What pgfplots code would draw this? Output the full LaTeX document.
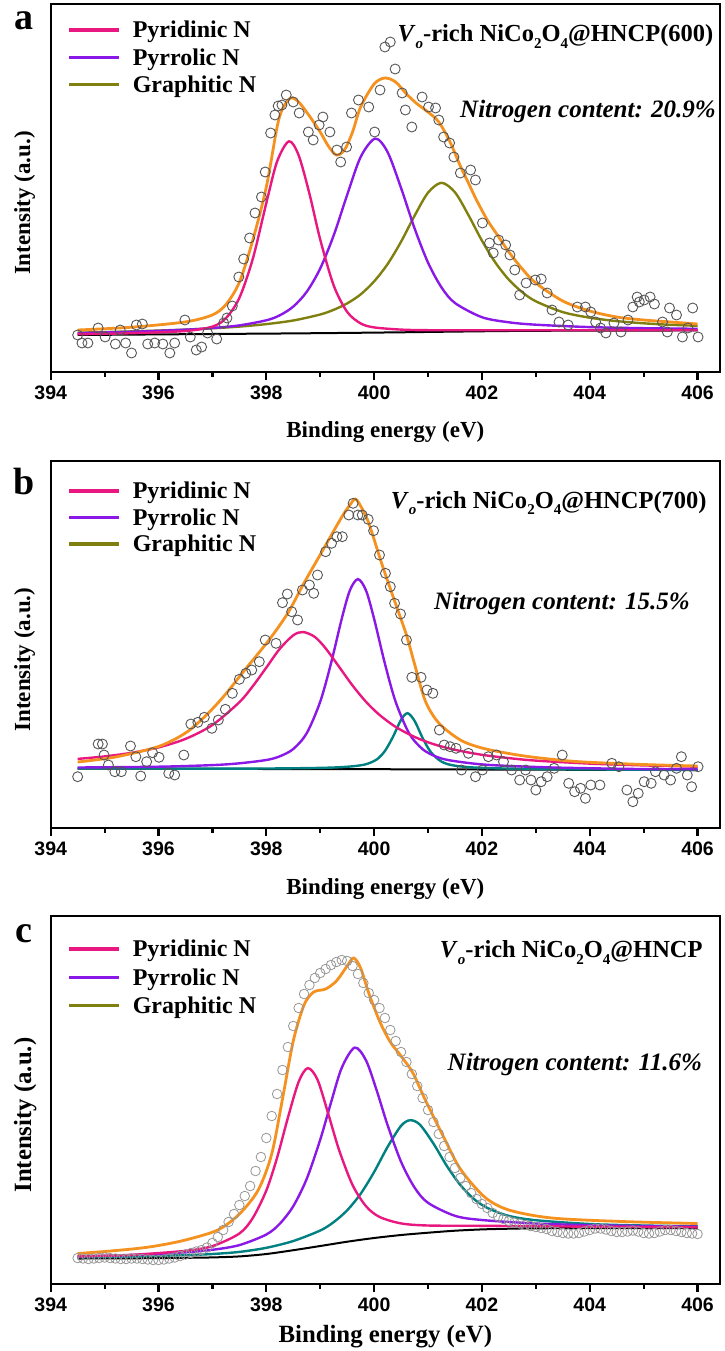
\documentclass[border=0pt]{standalone}
\usepackage{fontspec}
\setmainfont{Liberation Serif}
\newfontfamily\tickfont{Liberation Sans}
\usepackage{pgfplots}
\pgfplotsset{compat=1.18}

\definecolor{pyridinic}{RGB}{232,24,128}
\definecolor{pyrrolic}{RGB}{138,24,230}
\definecolor{graphitic}{RGB}{128,128,16}
\definecolor{graphfit}{RGB}{0,128,128}
\definecolor{envelope}{RGB}{245,145,30}
\definecolor{rawdata}{RGB}{85,85,85}
\definecolor{rawdatalight}{RGB}{150,150,150}

\newcommand{\sub}[1]{\raisebox{-0.28em}{\fontsize{15}{15}\selectfont #1}}

\pgfplotsset{
  xps/.style={
    scale only axis, width=669.3pt,
    xmin=394, xmax=406.417, ymin=0,
    xtick={394,396,...,406}, minor x tick num=1, ytick=\empty,
    xtick pos=left, tick align=outside,
    major tick length=8pt, minor tick length=4.6pt,
    tick style={black, line width=2.2pt},
    axis line style={line width=2.4pt},
    /pgf/number format/assume math mode=true,
    xticklabel style={font=\tickfont\bfseries\fontsize{19.5}{22}\selectfont, yshift=-2pt},
    xlabel={Binding energy (eV)},
    ylabel={Intensity (a.u.)},
    label style={font=\bfseries\fontsize{23}{27}\selectfont},
    ylabel style={at={(axis description cs:-0.0309,0.459)}, anchor=base},
    legend cell align=left,
    legend image code/.code={\draw[##1, line width=3.6pt] (0pt,0pt) -- (50pt,0pt);},
    legend style={draw=none, fill=none, inner sep=0pt, column sep=10pt,
      at={(axis description cs:0,1)}, anchor=north west, xshift=16.3pt,
      font=\bfseries\fontsize{24}{28}\selectfont},
  },
  raw/.style={only marks, mark=o, mark size=5pt, mark options={rawdata, line width=0.9pt}, forget plot},
  comp/.style={smooth, tension=0.5, line width=2.4pt, forget plot},
  base/.style={smooth, tension=0.5, line width=2pt, black, forget plot},
  env/.style={smooth, tension=0.5, line width=2.8pt, envelope, forget plot},
}

\begin{document}
\begin{tikzpicture}[x=1pt,y=1pt]
\useasboundingbox (0,0) rectangle (724,-1351);

% ---------------- (a) 600 C ----------------
\begin{axis}[xps, at={(50.7pt,-372pt)}, anchor=south west, height=368pt, ymax=368,
  xlabel style={at={(axis description cs:0.5,-0.1774)}, anchor=base},
  legend style={yshift=-15pt, row sep=5pt}]
\addplot[raw] coordinates {
(394.50,37) (394.58,29) (394.69,29) (394.88,44) (395.01,35) (395.20,28) (395.29,42)
(395.39,29) (395.50,19) (395.59,47) (395.70,48) (395.80,28) (395.93,29) (396.08,28)
(396.21,19) (396.30,29) (396.49,52) (396.59,35) (396.70,22) (396.80,25) (396.91,39)
(397.08,33) (397.21,49) (397.27,54) (397.37,66) (397.49,95) (397.58,113) (397.69,134)
(397.79,159) (397.91,175) (397.98,200) (398.08,239) (398.16,257) (398.22,266) (398.29,267)
(398.37,277) (398.50,270) (398.61,259) (398.78,240) (398.87,232) (398.98,247) (399.05,255)
(399.18,240) (399.31,222) (399.38,210) (399.49,225) (399.58,259) (399.71,272) (399.90,265)
(400.01,240) (400.11,282) (400.20,325) (400.30,330) (400.39,303) (400.52,279) (400.58,262)
(400.70,245) (400.89,275) (401.01,265) (401.14,264) (401.20,252) (401.29,235) (401.40,229)
(401.48,215) (401.60,199) (401.79,202) (401.88,192) (402.01,149) (402.14,129) (402.21,119)
(402.31,132) (402.44,127) (402.52,117) (402.61,102) (402.70,77) (402.82,89) (402.99,92)
(403.10,93) (403.21,79) (403.30,62) (403.43,50) (403.60,47) (403.77,65) (403.92,65)
(404.02,60) (404.11,50) (404.20,44) (404.30,39) (404.45,49) (404.58,40) (404.71,52)
(404.80,65) (404.88,75) (404.92,70) (405.01,72) (405.12,75) (405.20,68) (405.35,50)
(405.44,40) (405.48,64) (405.61,57) (405.72,35) (405.82,44) (405.91,64) (406.01,35)};
\addplot[base] coordinates {
(394.5,37) (395.5,37.4) (396.5,37.8) (397.5,38.2) (398.5,38.6) (399.5,39.1) (400.5,39.7)
(401.5,40.4) (402.5,41) (403.5,41.3) (404.5,41.4) (405.5,41.5) (406,41.6)};
\addplot[comp, graphitic] coordinates {
(394.5,39.3) (395.5,40.6) (396.5,42.4) (397,43.7) (397.5,45.4) (398,47.9) (398.5,51.5)
(399,57.5) (399.25,62.2) (399.5,68.6) (399.75,77.6) (400,90.6) (400.25,107.9) (400.5,130.3)
(400.75,156.2) (401,179.3) (401.25,189.2) (401.5,179.7) (401.75,156.9) (402,131.4)
(402.25,109.4) (402.5,92.3) (402.75,79.7) (403,70.7) (403.5,59.9) (404,54.3) (404.5,50.9)
(405,48.7) (405.5,47.2) (406,46.2)};
\addplot[comp, pyrrolic] coordinates {
(394.5,38.9) (395.5,40.2) (396.5,42.3) (397,44.0) (397.5,46.6) (398,51.7) (398.25,56.7)
(398.5,65.4) (398.75,80.2) (399,103.5) (399.25,136.6) (399.5,177.1) (399.75,215.0)
(400.02,233.4) (400.25,219.9) (400.5,184.0) (400.75,143.7) (401,109.4) (401.25,84.6)
(401.5,69.0) (402,54.8) (402.5,49.7) (403,47.3) (404,44.9) (405,43.8) (406,43.2)};
\addplot[comp, pyridinic] coordinates {
(394.5,37.8) (395.5,38.8) (396.5,41.0) (397,45.4) (397.25,53.8) (397.5,74.1) (397.75,113.3)
(398,168.9) (398.2,210.5) (398.42,230.7) (398.6,216.7) (398.8,178.3) (399,132.5)
(399.25,86.6) (399.5,60.1) (399.75,48.6) (400,44.6) (400.5,42.4) (401,41.8) (402,41.8)
(404,41.8) (406,41.8)};
\addplot[env] coordinates {
(394.5,42) (395.5,44.8) (396.5,50.1) (397,57.1) (397.25,67.4) (397.5,89.7) (397.75,132)
(398,185) (398.2,245) (398.3,263) (398.45,274) (398.6,270) (398.8,256) (399,240)
(399.15,226) (399.3,217) (399.45,222) (399.6,240) (399.75,265) (400,288) (400.2,294)
(400.4,290) (400.6,278) (400.8,268) (401,260) (401.2,250) (401.4,231) (401.6,206)
(401.75,189) (401.9,172) (402.1,152) (402.3,136) (402.5,120) (402.75,103) (403,89)
(403.5,71) (404,61) (404.5,55) (405,52) (405.5,50) (406,48)};
\addlegendimage{pyridinic}\addlegendentry{Pyridinic N}
\addlegendimage{pyrrolic}\addlegendentry{Pyrrolic N}
\addlegendimage{graphitic}\addlegendentry{Graphitic N}
\end{axis}

% ---------------- (b) 700 C ----------------
\begin{axis}[xps, at={(50.7pt,-828pt)}, anchor=south west, height=367pt, ymax=367,
  xlabel style={at={(axis description cs:0.5,-0.1807)}, anchor=base},
  legend style={yshift=-18.7pt, row sep=4.5pt}]
\addplot[raw] coordinates {
(394.50,51.3) (394.88,84) (394.96,84) (394.99,73) (395.07,63) (395.19,56.3) (395.31,56.3)
(395.48,82) (395.58,71.3) (395.67,52) (395.78,66.3) (395.89,75.3) (396.01,70.7) (396.19,54.7)
(396.30,53) (396.47,73) (396.60,104) (396.73,105.7) (396.85,110.7) (396.99,99.7) (397.11,108)
(397.24,118.7) (397.37,134.7) (397.50,148.7) (397.62,154.7) (397.73,158) (397.87,166.3)
(397.98,188) (398.18,184.7) (398.30,225.3) (398.39,234) (398.47,216.3) (398.58,208)
(398.67,238) (398.80,243) (398.88,234.7) (398.95,253) (399.10,276.3) (399.21,284.7)
(399.31,291.3) (399.41,291.3) (399.53,313) (399.61,324.7) (399.70,313) (399.78,313)
(399.89,308.7) (399.99,297.3) (400.10,273) (400.21,254.7) (400.30,241.3) (400.38,224.7)
(400.49,214) (400.60,188) (400.70,150.7) (400.87,150.7) (400.98,138) (401.09,134.7)
(401.21,98) (401.30,83) (401.41,81.3) (401.52,79.7) (401.62,58) (401.75,74.7) (401.88,51.3)
(402.01,58) (402.12,71.3) (402.27,73) (402.40,66.3) (402.55,58) (402.70,48) (402.81,58)
(402.91,48) (403.00,38) (403.10,46.3) (403.21,51.3) (403.34,59.7) (403.49,73) (403.61,44.7)
(403.72,36.3) (403.83,39.7) (403.92,29.7) (404.02,43) (404.19,43) (404.41,64.7) (404.54,61.3)
(404.69,38) (404.80,26.3) (404.90,34.7) (405.01,46.3) (405.14,44.7) (405.22,56.3) (405.38,53)
(405.50,48) (405.61,59.7) (405.70,71.3) (405.81,53) (405.89,41.3) (406.01,61.3)};
\addplot[base] coordinates {
(394.5,59.5) (396,59.3) (398,59) (400,58.8) (402,58.5) (404,58.2) (406,58)};
\addplot[comp, graphfit] coordinates {
(394.5,59.6) (397,59.4) (398,59.5) (398.75,59.9) (399.25,60.5) (399.6,61.7) (399.85,63.8)
(400.05,68.6) (400.2,77.0) (400.35,91.2) (400.5,108.2) (400.62,114.8) (400.75,107.2)
(400.9,90.0) (401.05,76.1) (401.25,66.4) (401.5,62.3) (402,60.1) (403,59.0) (404.5,58.4)
(406,58.1)};
\addplot[comp, pyrrolic] coordinates {
(394.5,60.5) (396,61.3) (397,62.9) (397.5,64.7) (398,68.0) (398.25,71.7) (398.5,79.0)
(398.75,94.8) (399,126.3) (399.2,164.6) (399.4,209.4) (399.55,237.6) (399.7,248.9)
(399.85,237.5) (400,209.2) (400.2,164.4) (400.4,126.1) (400.65,94.6) (400.9,78.8)
(401.15,71.4) (401.4,67.7) (401.9,64.1) (402.4,62.3) (403.4,60.4) (404.9,59.0) (406,58.7)};
\addplot[comp, pyridinic] coordinates {
(394.5,69.1) (395,71.6) (395.5,75.2) (396,80.6) (396.5,89.1) (397,103.0) (397.5,125.8)
(397.75,141.9) (398,160.4) (398.25,179.2) (398.5,192.7) (398.68,196.0) (398.9,191.1)
(399.1,179.7) (399.35,161.2) (399.6,142.5) (399.85,126.2) (400.1,113.1) (400.4,101.1)
(400.75,91.1) (401.1,83.9) (401.5,78.2) (402,73.2) (402.5,69.9) (403,67.4) (404,64.4)
(405,62.6) (406,61.3)};
\addplot[env] coordinates {
(394.5,66) (395.2,71) (396,81.5) (396.5,95) (396.85,111) (397.2,131) (397.6,158)
(398.05,188) (398.4,215) (398.7,245) (399.05,278) (399.4,311) (399.55,323) (399.65,329)
(399.75,322) (399.9,305) (400.15,263) (400.4,224) (400.6,193) (400.75,164) (400.95,127)
(401.2,105) (401.6,88) (402,80) (402.5,74.5) (403,70.5) (403.8,66.3) (405,63.5) (406,62)};
\addlegendimage{pyridinic}\addlegendentry{Pyridinic N}
\addlegendimage{pyrrolic}\addlegendentry{Pyrrolic N}
\addlegendimage{graphitic}\addlegendentry{Graphitic N}
\end{axis}

% ---------------- (c) ----------------
\begin{axis}[xps, at={(50.7pt,-1284pt)}, anchor=south west, height=368pt, ymax=368,
  label style={font=\bfseries\fontsize{24.8}{29}\selectfont},
  ylabel style={at={(axis description cs:-0.0292,0.459)}, anchor=base},
  xlabel style={at={(axis description cs:0.5,-0.160)}, anchor=base},
  legend style={yshift=-22pt, row sep=6pt}]
\addplot[raw, mark size=4.8pt, mark options={rawdatalight, line width=0.8pt}] coordinates {
(394.5,26) (394.6,25.5) (394.7,25) (394.8,25.5) (394.9,26) (395.0,26.5) (395.1,26)
(395.2,25.5) (395.3,25) (395.4,25) (395.5,25.5) (395.6,25.5) (395.7,25) (395.8,24.5)
(395.9,24) (396.0,24) (396.1,24.5) (396.2,25.5) (396.3,26.5) (396.4,28) (396.5,29.5)
(396.6,31) (396.7,32.5) (396.8,34) (396.9,36.5) (397.0,41) (397.1,47) (397.2,54) (397.3,62)
(397.4,70) (397.5,79) (397.6,88) (397.7,98) (397.8,113) (397.9,127) (398.0,146) (398.1,168)
(398.2,190) (398.3,214) (398.4,237) (398.5,258) (398.6,276) (398.7,290) (398.8,299)
(398.9,306) (399.0,311) (399.1,315) (399.2,319) (399.3,322) (399.4,324) (399.5,323)
(399.6,318) (399.7,310) (399.8,301) (399.9,291) (400.0,284) (400.1,276) (400.2,266)
(400.3,254) (400.4,243) (400.5,232) (400.6,222) (400.7,210) (400.8,198) (400.9,186)
(401.0,174) (401.1,162) (401.2,150) (401.3,138) (401.4,127) (401.5,116) (401.6,106)
(401.7,98) (401.8,91) (401.9,85) (402.0,80) (402.1,76) (402.2,71) (402.3,67.5) (402.4,65)
(402.5,63) (402.6,61.5) (402.7,60.5) (402.8,59) (402.9,58) (403.0,57) (403.1,56) (403.2,55)
(403.3,53) (403.4,52) (403.5,51) (403.6,50.5) (403.7,50.5) (403.8,51) (403.9,52.5)
(404.0,54) (404.1,55.5) (404.2,55.5) (404.3,54.5) (404.4,53) (404.5,52) (404.6,52)
(404.7,52.5) (404.8,53.5) (404.9,52.5) (405.0,51) (405.1,50.5) (405.2,51) (405.3,52.5)
(405.4,54) (405.5,54) (405.6,53) (405.7,52) (405.8,51) (405.9,50.5) (406.0,50)};
\addplot[base] coordinates {
(394.5,25.5) (395.5,25.7) (396.5,26.2) (397,26.6) (397.5,27.6) (398,30) (398.5,33.8)
(399,38) (399.5,42.3) (400,46) (400.5,49) (401,51.3) (401.5,53.3) (402,54.6) (402.5,55.3)
(403,55.7) (404,55.9) (405,56) (406,56)};
\addplot[comp, graphfit] coordinates {
(394.5,26.7) (395.5,27.5) (396.5,28.9) (397,30.0) (397.5,32.1) (398,36.2) (398.5,43.0)
(399,53.5) (399.25,61.9) (399.5,73.7) (399.75,90.2) (400,112.0) (400.25,137.1) (400.5,158.2)
(400.67,163.8) (400.85,159.3) (401.1,140.5) (401.35,118.0) (401.6,99.0) (401.85,85.1)
(402.1,76.1) (402.5,68.1) (403,63.8) (404,60.0) (405,58.5) (406,57.7)};
\addplot[comp, pyrrolic] coordinates {
(394.5,27.6) (395.5,28.9) (396.5,31.7) (397,34.2) (397.5,38.9) (398,49.5) (398.25,60.3)
(398.5,77.8) (398.75,105.2) (399,144.3) (399.2,181.4) (399.4,216.3) (399.64,236.4)
(399.85,223.6) (400.05,193.2) (400.25,158.9) (400.5,122.2) (400.75,96.5) (401,81.2)
(401.5,68.2) (402,64.0) (403,60.5) (404,58.8) (405,57.9) (406,57.4)};
\addplot[comp, pyridinic] coordinates {
(394.5,27.6) (395.5,29.2) (396.5,33.2) (397,37.9) (397.5,50.5) (397.75,66.1) (398,93.5)
(398.2,126.3) (398.4,166.2) (398.6,202.2) (398.77,215.9) (398.95,204.3) (399.15,170.1)
(399.35,134.0) (399.6,99.0) (399.85,77.8) (400.1,67.1) (400.5,60.6) (401,58.5) (402,58.2)
(403,57.8) (404,57.3) (405,57.0) (406,56.7)};
\addplot[env] coordinates {
(394.5,30.5) (395,32.5) (395.6,35.5) (396,38.5) (396.5,44) (397.1,54) (397.5,70)
(397.85,94) (398.1,130) (398.3,185) (398.5,243) (398.7,279) (398.88,292) (399.1,295)
(399.3,303) (399.5,318) (399.62,326) (399.75,316) (399.9,291) (400.1,263) (400.3,242)
(400.5,228) (400.72,211) (400.95,184) (401.3,146) (401.6,115) (402.05,87) (402.5,74)
(403.3,66) (404.6,62.5) (406,60.5)};
\addlegendimage{pyridinic}\addlegendentry{Pyridinic N}
\addlegendimage{pyrrolic}\addlegendentry{Pyrrolic N}
\addlegendimage{graphitic}\addlegendentry{Graphitic N}
\end{axis}

% panel letters and annotations
\begin{scope}[font=\bfseries\fontsize{38}{40}\selectfont]
\node at (24,-21) {a};
\node at (24,-481) {b};
\node at (24,-933.5) {c};
\end{scope}
\begin{scope}[font=\bfseries\fontsize{24.5}{29}\selectfont]
\node[anchor=base] at (555.5,-42) {\textit{V}\sub{\textit{o}}-rich NiCo\sub{2}O\sub{4}@HNCP(600)};
\node[anchor=base] at (548.7,-508) {\textit{V}\sub{\textit{o}}-rich NiCo\sub{2}O\sub{4}@HNCP(700)};
\node[anchor=base] at (571.3,-957.3) {\textit{V}\sub{\textit{o}}-rich NiCo\sub{2}O\sub{4}@HNCP};
\end{scope}
\begin{scope}[font=\bfseries\itshape\fontsize{25}{30}\selectfont]
\node[anchor=base] at (588,-118) {Nitrogen content: 20.9\%};
\node[anchor=base] at (562,-609.3) {Nitrogen content: 15.5\%};
\node[anchor=base] at (574.8,-1070.7) {Nitrogen content: 11.6\%};
\end{scope}
\end{tikzpicture}
\end{document}
